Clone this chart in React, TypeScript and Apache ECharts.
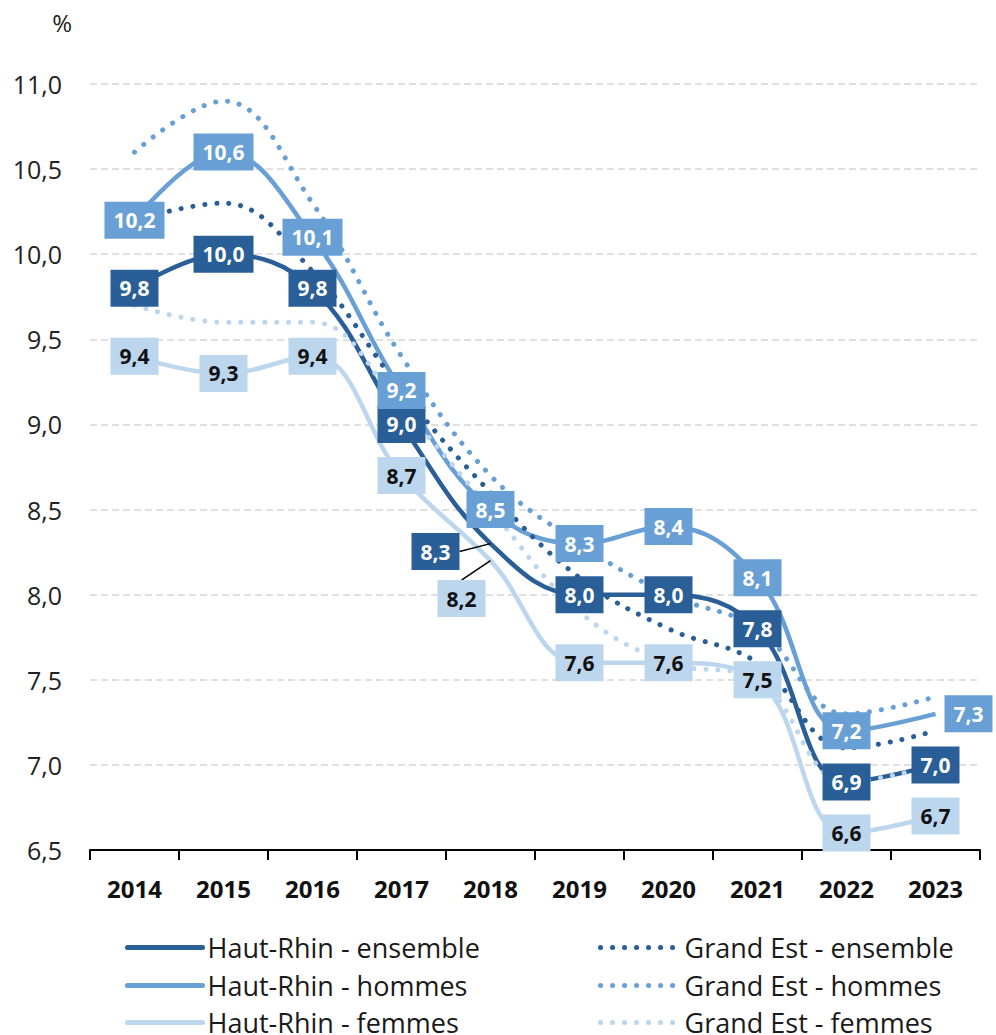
import React, { useEffect, useRef } from 'react';
import * as echarts from 'echarts';

const years = ['2014', '2015', '2016', '2017', '2018', '2019', '2020', '2021', '2022', '2023'];
const hrEnsemble = [9.8, 10.0, 9.8, 9.0, 8.3, 8.0, 8.0, 7.8, 6.9, 7.0];
const hrHommes = [10.2, 10.6, 10.1, 9.2, 8.5, 8.3, 8.4, 8.1, 7.2, 7.3];
const hrFemmes = [9.4, 9.3, 9.4, 8.7, 8.2, 7.6, 7.6, 7.5, 6.6, 6.7];
const geEnsemble = [10.2, 10.3, 9.9, 9.2, 8.6, 8.1, 7.8, 7.6, 7.1, 7.2];
const geHommes = [10.6, 10.9, 10.3, 9.4, 8.7, 8.3, 8.0, 7.8, 7.3, 7.4];
const geFemmes = [9.7, 9.6, 9.6, 9.1, 8.5, 7.9, 7.6, 7.5, 6.9, 7.0];

const names = [
  'Haut-Rhin - ensemble',
  'Haut-Rhin - hommes',
  'Haut-Rhin - femmes',
  'Grand Est - ensemble',
  'Grand Est - hommes',
  'Grand Est - femmes',
];

const DARK = '#2A5E96';
const MID = '#689FD5';
const LIGHT = '#BCD6EE';
const FONT = '"Open Sans", "Noto Sans", sans-serif';
const DOT_TYPE = [0.1, 11.9];

const fmt = (v: number) => v.toFixed(1).replace('.', ',');

export default function App() {
  const ref = useRef<HTMLDivElement>(null);
  useEffect(() => {
    document.body.style.margin = '0';
    const chart = echarts.init(ref.current!, null, { renderer: 'svg' });

    const solid = (name: string, vals: number[], color: string) => ({
      name,
      type: 'line',
      data: vals,
      smooth: 0.4,
      symbol: 'none',
      itemStyle: { color },
      lineStyle: { color, width: 4.5 },
      z: 2,
    });

    const dotted = (name: string, vals: number[], color: string) => ({
      name,
      type: 'line',
      data: vals,
      smooth: 0.4,
      symbol: 'none',
      itemStyle: { color },
      lineStyle: { color, width: 5, type: DOT_TYPE, cap: 'round' },
      z: 3,
    });

    const labels = (name: string, vals: number[], bg: string, fg: string, shift?: [number, number]) => {
      const data: any[] = vals.map((v, i) =>
        i === vals.length - 1 ? { value: v, label: { offset: [33, 0] } } : { value: v }
      );
      if (shift) {
        data[4] = { ...data[4], labelLine: { show: true, lineStyle: { color: '#000', width: 1.5 } } };
      }
      return {
        name: name + ' (valeurs)',
        type: 'line',
        data,
        symbol: 'circle',
        symbolSize: 0.1,
        itemStyle: { color: 'rgba(0,0,0,0)' },
        lineStyle: { width: 0, color: 'rgba(0,0,0,0)' },
        label: {
          show: true,
          position: 'inside',
          formatter: (p: any) => fmt(p.value),
          backgroundColor: bg,
          color: fg,
          fontFamily: FONT,
          fontWeight: 'bold',
          fontSize: 21,
          lineHeight: 21,
          padding: [8, 9],
        },
        labelLayout: shift
          ? (p: any) => (p.dataIndex === 4 ? { dx: shift[0], dy: shift[1] } : {})
          : undefined,
        z: 4,
      };
    };

    const legendItem = (name: string, left: number, top: number, width: number, lineStyle: any) => ({
      orient: 'vertical',
      left,
      top,
      padding: 0,
      itemWidth: width,
      itemHeight: 14,
      selectedMode: false,
      itemStyle: { opacity: 0 },
      lineStyle,
      data: [name],
      textStyle: { fontSize: 27, fontFamily: FONT, color: '#1a1a1a' },
    });

    const rowTops = [934, 972, 1009];
    const colors = [DARK, MID, LIGHT];

    chart.setOption({
      animation: false,
      grid: { left: 90, right: 16, top: 84, bottom: 185, containLabel: false },
      legend: [
        ...[0, 1, 2].map((i) =>
          legendItem(names[i], 125, rowTops[i], 75, { color: colors[i], width: 5, cap: 'round' })
        ),
        ...[0, 1, 2].map((i) =>
          legendItem(names[i + 3], 598, rowTops[i], 79, {
            color: colors[i],
            width: 5,
            type: DOT_TYPE,
            cap: 'round',
          })
        ),
      ],
      xAxis: {
        type: 'category',
        data: years,
        axisLine: { lineStyle: { color: '#000', width: 2 } },
        axisTick: { show: true, length: 10, lineStyle: { color: '#000', width: 2 } },
        axisLabel: { fontSize: 24, fontWeight: 'bold', color: '#111', margin: 26, fontFamily: FONT },
      },
      yAxis: {
        type: 'value',
        min: 6.5,
        max: 11,
        interval: 0.5,
        name: '%',
        nameLocation: 'end',
        nameGap: 50,
        nameTextStyle: { fontSize: 24, color: '#222', align: 'right', padding: [0, 18, 0, 0], fontFamily: FONT },
        axisLine: { show: false },
        axisTick: { show: false },
        axisLabel: { formatter: (v: number) => fmt(v), fontSize: 25, color: '#222', margin: 28, fontFamily: FONT },
        splitLine: { lineStyle: { color: '#d6d6d6', type: [7, 4], width: 1.5 } },
      },
      series: [
        solid(names[0], hrEnsemble, DARK),
        solid(names[1], hrHommes, MID),
        solid(names[2], hrFemmes, LIGHT),
        dotted(names[3], geEnsemble, DARK),
        dotted(names[4], geHommes, MID),
        dotted(names[5], geFemmes, LIGHT),
        labels(names[0], hrEnsemble, DARK, '#fff', [-55, 8]),
        labels(names[1], hrHommes, MID, '#fff'),
        labels(names[2], hrFemmes, LIGHT, '#111', [-29, 38]),
      ],
    });
    return () => chart.dispose();
  }, []);
  return <div ref={ref} style={{ width: 996, height: 1035 }} />;
}
